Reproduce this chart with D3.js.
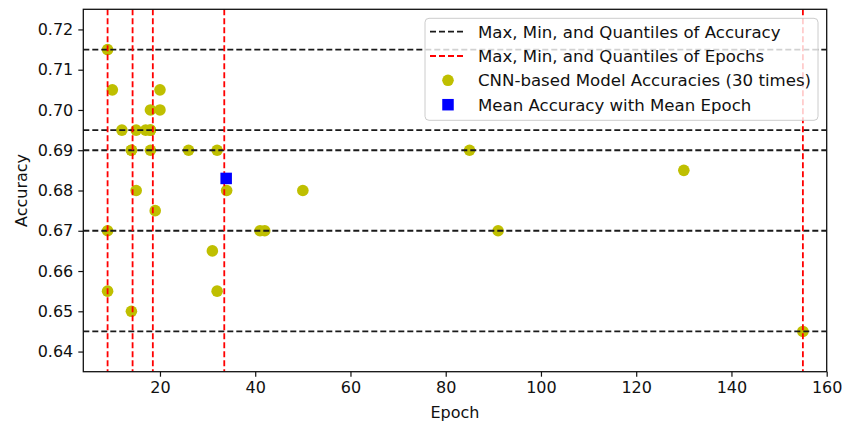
<!DOCTYPE html>
<html>
<head>
<meta charset="utf-8">
<script src="https://cdn.jsdelivr.net/npm/d3@7"></script>
<style>
  body { margin: 0; background: #fff; }
  svg { display: block; font-family: "DejaVu Sans", sans-serif; }
</style>
</head>
<body>
<svg id="chart" width="843" height="430"></svg>
<script>
// ---- data ----
const epochs =     [9, 10, 20, 18, 20, 12, 15, 17, 18, 14, 18, 26, 32, 15, 34, 19, 9, 41, 42, 31, 9, 32, 14, 85, 130, 91, 155, 50, 18, 14];
const accuracies = [0.715, 0.705, 0.705, 0.700, 0.700, 0.695, 0.695, 0.695, 0.695, 0.690, 0.690, 0.690, 0.690, 0.680, 0.680, 0.675, 0.670, 0.670, 0.670, 0.665, 0.655, 0.655, 0.650, 0.690, 0.685, 0.670, 0.645, 0.680, 0.695, 0.690];
const accuracyStats = [0.645, 0.670, 0.690, 0.695, 0.715];   // min, Q1, median, Q3, max
const epochStats = [9, 14.25, 18.5, 33.5, 155];               // min, Q1, median, Q3, max
const meanEpoch = [33.9];
const meanAccuracy = [0.683];
const xTicks = [20, 40, 60, 80, 100, 120, 140, 160];
const yTicks = [0.64, 0.65, 0.66, 0.67, 0.68, 0.69, 0.70, 0.71, 0.72];
const legendLabels = [
  "Max, Min, and Quantiles of Accuracy",
  "Max, Min, and Quantiles of Epochs",
  "CNN-based Model Accuracies (30 times)",
  "Mean Accuracy with Mean Epoch"
];

// ---- layout ----
const W = 843, H = 430;
const m = { left: 83.3, right: 16.3, top: 9.3, bottom: 58.3 };
const iw = W - m.left - m.right, ih = H - m.top - m.bottom;
const FS = 16;
const LFS = 16.6;
const ink = "#111";

const svg = d3.select("#chart");
const g = svg.append("g").attr("transform", `translate(${m.left},${m.top})`);

const x = d3.scaleLinear().domain([3.9, 160]).range([0, iw]);
const y = d3.scaleLinear().domain([0.635, 0.725]).range([ih, 0]);

const olive = "#bfbf00";
const dash = "6,3";
const lw = 1.8;

// points
const pts = epochs.map((e, i) => ({ e, a: accuracies[i] }));
g.append("g").selectAll("circle").data(pts).join("circle")
  .attr("cx", d => x(d.e)).attr("cy", d => y(d.a)).attr("r", 5.8)
  .attr("fill", olive);

// horizontal accuracy lines
g.append("g").selectAll("line").data(accuracyStats).join("line")
  .attr("x1", 0).attr("x2", iw)
  .attr("y1", d => y(d)).attr("y2", d => y(d))
  .attr("stroke", "#1a1a1a").attr("stroke-width", lw)
  .attr("stroke-dasharray", dash);

// vertical epoch lines
g.append("g").selectAll("line").data(epochStats).join("line")
  .attr("y1", 0).attr("y2", ih)
  .attr("x1", d => x(d)).attr("x2", d => x(d))
  .attr("stroke", "#ff0000").attr("stroke-width", lw)
  .attr("stroke-dasharray", dash);

// mean square
const sq = 11.5;
g.append("g").selectAll("rect").data(meanEpoch.map((e, i) => ({ e, a: meanAccuracy[i] }))).join("rect")
  .attr("x", d => x(d.e) - sq / 2).attr("y", d => y(d.a) - sq / 2)
  .attr("width", sq).attr("height", sq).attr("fill", "#0000ff");

// axes
const xAxis = g.append("g").attr("transform", `translate(0,${ih})`)
  .call(d3.axisBottom(x).tickValues(xTicks).tickFormat(d3.format("d")).tickSize(5).tickSizeOuter(0).tickPadding(5));
const yAxis = g.append("g")
  .call(d3.axisLeft(y).tickValues(yTicks).tickFormat(d3.format(".2f")).tickSize(5).tickSizeOuter(0).tickPadding(5));
[xAxis, yAxis].forEach(a => {
  a.select(".domain").remove();
  a.selectAll("line").attr("stroke", ink).attr("stroke-width", 1.2);
  a.selectAll("text").attr("font-size", FS).attr("fill", ink).attr("font-family", "DejaVu Sans");
});

// frame
g.append("rect").attr("x", 0).attr("y", 0).attr("width", iw).attr("height", ih)
  .attr("fill", "none").attr("stroke", ink).attr("stroke-width", 1.3);

// axis labels
svg.append("text").attr("x", m.left + iw / 2).attr("y", 418)
  .attr("text-anchor", "middle").attr("font-size", FS).attr("fill", ink).text("Epoch");
svg.append("text").attr("transform", `translate(27,${m.top + ih / 2}) rotate(-90)`)
  .attr("text-anchor", "middle").attr("font-size", FS).attr("fill", ink).text("Accuracy");

// legend
const lg = svg.append("g");
lg.append("rect").attr("x", 425).attr("y", 18.3).attr("width", 393).attr("height", 102)
  .attr("rx", 4).attr("fill", "#fff").attr("fill-opacity", 0.8)
  .attr("stroke", "#cccccc").attr("stroke-width", 1);
const rowY = [31.7, 56, 80.3, 104.7];
const items = lg.selectAll("g.item").data(legendLabels).join("g").attr("class", "item")
  .attr("transform", (d, i) => `translate(0,${rowY[i]})`);
items.append("text").attr("x", 478).attr("dy", "0.35em").attr("font-size", LFS).attr("fill", ink).text(d => d);
items.each(function (d, i) {
  const s = d3.select(this);
  if (i < 2) {
    s.append("line").attr("x1", 430).attr("x2", 464).attr("y1", 0).attr("y2", 0)
      .attr("stroke", i === 0 ? "#1a1a1a" : "#ff0000").attr("stroke-width", lw)
      .attr("stroke-dasharray", dash);
  } else if (i === 2) {
    s.append("circle").attr("cx", 448).attr("cy", 0).attr("r", 5.8).attr("fill", olive);
  } else {
    s.append("rect").attr("x", 448 - sq / 2).attr("y", -sq / 2).attr("width", sq).attr("height", sq).attr("fill", "#0000ff");
  }
});
</script>
</body>
</html>
